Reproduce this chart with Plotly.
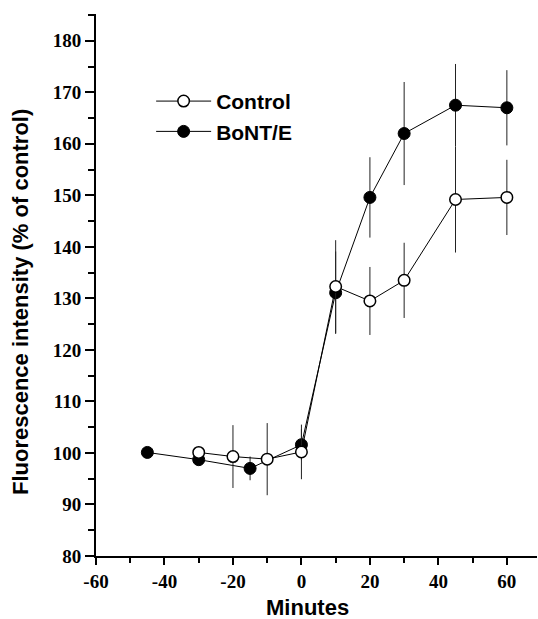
import plotly.graph_objects as go

# Data
ctrl_x = [-30, -20, -10, 0, 10, 20, 30, 45, 60]
ctrl_y = [100.1, 99.3, 98.8, 100.2, 132.3, 129.5, 133.5, 149.2, 149.6]
ctrl_err = [0.8, 6.1, 7.0, 5.3, 9.0, 6.6, 7.3, 10.3, 7.3]

bont_x = [-45, -30, -15, 0, 10, 20, 30, 45, 60]
bont_y = [100.1, 98.7, 97.0, 101.6, 131.1, 149.6, 162.0, 167.5, 167.0]
bont_err = [0.5, 0.8, 2.3, 3.0, 8.0, 7.8, 10.0, 8.0, 7.3]

x_ticks = [-60, -40, -20, 0, 20, 40, 60]
x_tick_labels = ["-60", "-40", "-20", "0", "20", "40", "60"]
y_ticks = [80, 90, 100, 110, 120, 130, 140, 150, 160, 170, 180]
y_tick_labels = [str(v) for v in y_ticks]

fig = go.Figure()

fig.add_trace(go.Scatter(
    x=bont_x, y=bont_y, name="BoNT/E", mode="lines+markers",
    line=dict(color="black", width=1),
    marker=dict(symbol="circle", size=12, color="black", line=dict(color="black", width=1)),
    error_y=dict(type="data", array=bont_err, visible=True, color="#222222", thickness=1, width=0),
    legendrank=2,
))
fig.add_trace(go.Scatter(
    x=ctrl_x, y=ctrl_y, name="Control", mode="lines+markers",
    line=dict(color="black", width=1),
    marker=dict(symbol="circle", size=11.5, color="white", line=dict(color="black", width=1.5)),
    error_y=dict(type="data", array=ctrl_err, visible=True, color="#222222", thickness=1, width=0),
    legendrank=1,
))

tickfont = dict(family="Liberation Serif", size=19, color="black", weight="bold")
titlefont = dict(family="Liberation Sans", size=22, color="black", weight="bold")

fig.update_layout(
    width=538, height=619,
    margin=dict(l=96, r=1, t=14, b=63, autoexpand=False),
    paper_bgcolor="white", plot_bgcolor="white",
    showlegend=True,
    legend=dict(
        x=0.125, y=0.811, xanchor="left", yanchor="middle",
        font=dict(family="Liberation Sans", size=21, color="black", weight="bold"),
        bgcolor="rgba(0,0,0,0)", tracegroupgap=0, itemwidth=55,
    ),
    xaxis=dict(
        range=[-60, 68.8], tickmode="array", tickvals=x_ticks, ticktext=x_tick_labels,
        ticks="outside", ticklen=7, tickwidth=2, tickcolor="black",
        showline=True, linewidth=2, linecolor="black", automargin=False,
        showgrid=False, zeroline=False, tickfont=tickfont,
        minor=dict(dtick=10, tick0=-60, ticks="outside", ticklen=5, tickwidth=2, tickcolor="black", showgrid=False),
    ),
    yaxis=dict(
        range=[80, 185.2], tickmode="array", tickvals=y_ticks, ticktext=y_tick_labels,
        ticks="outside", ticklen=9, tickwidth=2, tickcolor="black",
        showline=True, linewidth=2, linecolor="black", automargin=False,
        showgrid=False, zeroline=False, tickfont=tickfont,
        minor=dict(dtick=5, tick0=80, ticks="outside", ticklen=6, tickwidth=2, tickcolor="black", showgrid=False),
    ),
)

plot_w = 538 - 96 - 1
plot_h = 619 - 14 - 63
fig.add_annotation(text="Minutes", showarrow=False, font=titlefont, xref="paper", yref="paper",
                   x=(307 - 96) / plot_w, y=(556 - 607) / plot_h, xanchor="center", yanchor="middle")
fig.add_annotation(text="Fluorescence intensity (% of control)", textangle=-90, showarrow=False, font=titlefont,
                   xref="paper", yref="paper", x=(20 - 96) / plot_w, y=(556 - 302) / plot_h,
                   xanchor="center", yanchor="middle")

fig.write_html("out.html", config={"displayModeBar": False},
               post_script="document.body.style.margin='0';document.body.style.padding='0';")
